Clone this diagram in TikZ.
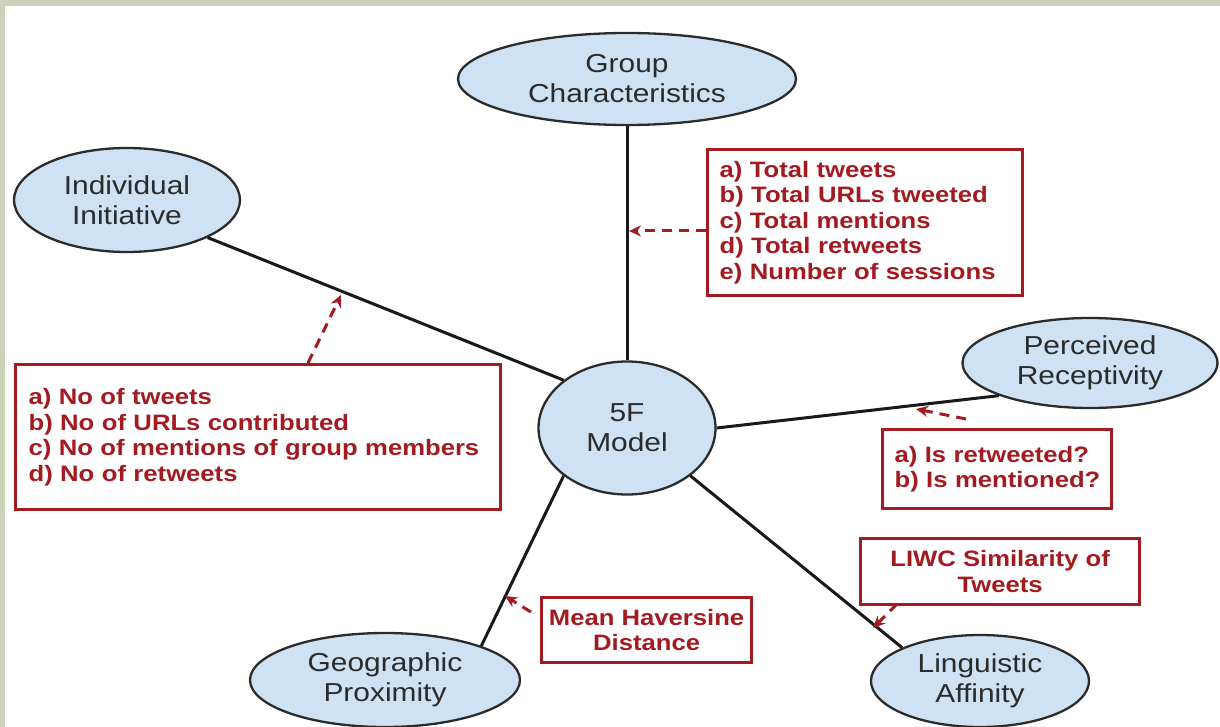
\documentclass[tikz,border=0pt]{standalone}
\usepackage{fontspec}
\setmainfont{Liberation Sans}[FakeStretch=1.15]
\usetikzlibrary{shapes.geometric,arrows.meta}
\definecolor{bub}{HTML}{CFE2F3}
\definecolor{dred}{HTML}{A31B21}
\definecolor{framecol}{HTML}{CCD1B9}
\definecolor{ink}{HTML}{2B2B2B}
\begin{document}
\begin{tikzpicture}[x=1pt,y=-1pt,
  factor/.style={ellipse, draw=ink, line width=2.3pt, fill=bub, inner sep=0pt,
    align=center, text=ink, font=\fontsize{26}{30}\selectfont},
  lbox/.style={draw=dred, line width=3.2pt, text=dred, inner sep=0pt,
    font=\fontsize{22.3}{25.5}\selectfont\bfseries},
  link/.style={draw=black!90, line width=3pt},
  cue/.style={draw=dred, line width=3pt, dash pattern=on 10pt off 7pt,
    -{Stealth[length=12pt,width=11pt]}}
]
\fill[framecol] (0,0) rectangle (1220,727);
\fill[white] (5,6) rectangle (1220,727);
\useasboundingbox (0,0) rectangle (1220,727);

% factor ellipses
\node[factor, minimum width=338pt, minimum height=92pt] (gc) at (627,79) {Group\\Characteristics};
\node[factor, minimum width=226pt, minimum height=104pt] (ii) at (127,200) {Individual\\Initiative};
\node[factor, minimum width=177pt, minimum height=133pt] (fm) at (627,428) {5F\\Model};
\node[factor, minimum width=255pt, minimum height=90pt] (pr) at (1090,363) {Perceived\\Receptivity};
\node[factor, minimum width=270pt, minimum height=94pt] (gp) at (385,680) {Geographic\\Proximity};
\node[factor, minimum width=218pt, minimum height=92pt] (la) at (980,681) {Linguistic\\Affinity};

% connectors
\draw[link] (gc.south) -- (fm.north);
\draw[link] (ii.south east) -- (fm.north west);
\draw[link] (fm.east) -- (pr.south west);
\draw[link] (fm.south east) -- (la.north west);
\draw[link] (fm.south west) -- (gp.north east);

% label boxes
\node[lbox, anchor=north west, minimum width=315pt, minimum height=146pt,
  text width=291pt, align=left] (gcbox) at (706,148)
  {\mbox{a) Total tweets}\\\mbox{b) Total URLs tweeted}\\\mbox{c) Total mentions}\\\mbox{d) Total retweets}\\\mbox{e) Number of sessions}};
\node[lbox, anchor=north west, minimum width=485pt, minimum height=145pt,
  text width=459pt, align=left] (iibox) at (14,363)
  {\mbox{a) No of tweets}\\\mbox{b) No of URLs contributed}\\\mbox{c) No of mentions of group members}\\\mbox{d) No of retweets}};
\node[lbox, anchor=north west, minimum width=229pt, minimum height=79pt,
  text width=205pt, align=left] (prbox) at (881,428)
  {\mbox{a) Is retweeted?}\\\mbox{b) Is mentioned?}};
\node[lbox, anchor=north west, minimum width=279pt, minimum height=66pt,
  align=center] (labox) at (859,537) {LIWC Similarity of\\Tweets};
\node[lbox, anchor=north west, minimum width=210pt, minimum height=65pt,
  align=center] (gpbox) at (540,596) {Mean Haversine\\Distance};

% dashed cue arrows
\coordinate (h1) at (629,231);
\draw[cue] (gcbox.west |- h1) -- (h1);
\coordinate (s2) at (308,363);
\coordinate (h2) at (341,295);
\draw[cue] (s2) -- (h2);
\coordinate (s3) at (966,419);
\coordinate (h3) at (916,409);
\draw[cue] (s3) -- (h3);
\coordinate (s4) at (897,604);
\coordinate (h4) at (873,628);
\draw[cue] (s4) -- (h4);
\coordinate (s5) at (531,612);
\coordinate (h5) at (505,596);
\draw[cue] (s5) -- (h5);
\end{tikzpicture}
\end{document}
